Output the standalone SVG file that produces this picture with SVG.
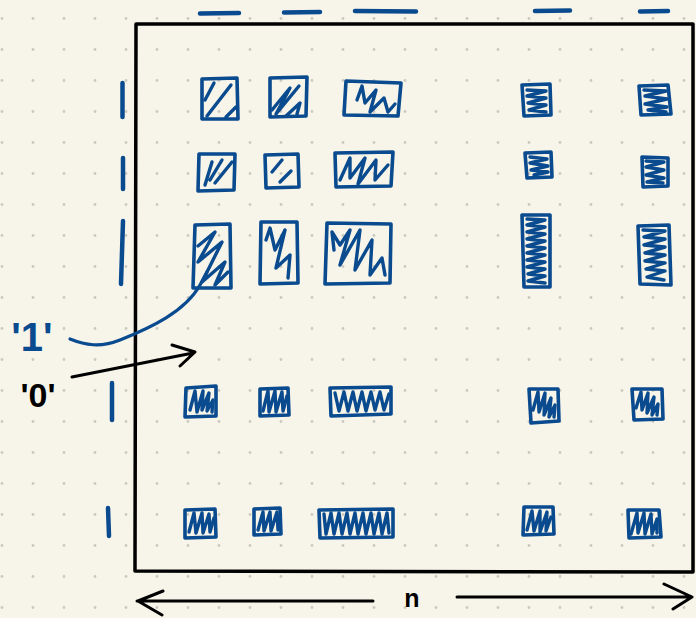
<svg xmlns="http://www.w3.org/2000/svg" width="696" height="618" viewBox="0 0 696 618">
<defs>
<pattern id="dots" x="0" y="0" width="31" height="31" patternUnits="userSpaceOnUse">
<circle cx="2" cy="18.5" r="1.4" fill="#cbc9c0"/>
</pattern>
<style>
.box{fill:none;stroke:#0a4a8e;stroke-width:3.6;stroke-linecap:round;stroke-linejoin:round}
.hat{fill:none;stroke:#0a4a8e;stroke-width:3.4;stroke-linecap:round;stroke-linejoin:round}
.dash{fill:none;stroke:#0a4a8e;stroke-width:4.5;stroke-linecap:round}
.blk{fill:none;stroke:#000;stroke-width:3;stroke-linecap:round;stroke-linejoin:round}
.lbl{font-family:"Liberation Sans",Arial,sans-serif;font-weight:bold}
</style>
</defs>
<rect width="696" height="618" fill="#f7f5ea"/>
<rect width="696" height="618" fill="url(#dots)"/>

<g id="frame">
<path d="M136,24 L693,24 L693,572 L135,571 Z" fill="none" stroke="#000" stroke-width="3.5" stroke-linejoin="round"/>
</g>

<g id="top-dashes">
<path class="dash" d="M200,13.5 L239,13"/>
<path class="dash" d="M284,12.5 L320,12"/>
<path class="dash" d="M355,11 L416,11.5"/>
<path class="dash" d="M535,11 L570,10.5"/>
<path class="dash" d="M640,11.5 L668,11"/>
</g>
<g id="left-dashes">
<path class="dash" d="M122.5,83 L122.5,117"/>
<path class="dash" d="M123,158 L123,189"/>
<path class="dash" d="M123,221 L121,284"/>
<path class="dash" d="M112,383 L112,420"/>
<path class="dash" d="M108,508 L109,536"/>
</g>

<g id="block-a"><path class="box" d="M202,79 L237,78 L238,119 L202,119 Z"/><path class="hat" d="M205,100 L214,83 M207,116 L231,85 M226,117 L236,107"/></g>
<g id="block-b"><path class="box" d="M270,78 L307,77 L306,116 L270,117 Z"/><path class="hat" d="M272,110 L290,88 L276,114 L299,86 M286,116 L300,103 L297,114"/></g>
<g id="block-c"><path class="box" d="M346,81 L401,83 L398,116 L344,115 Z"/><path class="hat" d="M357,100 L362,86 L365,103 L376,90 L370,112 L384,98 L388,112 L395,104"/></g>

<g id="block-d"><path class="box" d="M199,154 L235,154 L234,190 L198,191 Z"/><path class="hat" d="M205,185 L212,162 M210,180 L222,160 M215,183 L232,162"/></g>
<g id="block-e"><path class="box" d="M265,155 L298,154 L299,187 L266,188 Z"/><path class="hat" d="M272,172 L282,160 M280,182 L291,171"/></g>
<g id="block-f"><path class="box" d="M335,153 L393,152 L391,186 L336,187 Z"/><path class="hat" d="M340,180 L350,158 L350,178 L365,158 L358,184 L376,160 L375,180 L388,165"/></g>

<g id="block-g"><path class="box" d="M195,225 L230,224 L231,288 L193,288 Z"/><path class="hat" d="M198,246 L215,232 L198,262 L222,242 L202,282 L225,262 L215,285 L228,272"/></g>
<g id="block-h"><path class="box" d="M261,222 L297,222 L298,283 L260,284 Z"/><path class="hat" d="M266,240 L270,228 L275,250 L285,230 L276,268 L290,255 L288,278"/></g>
<g id="block-i"><path class="box" d="M327,223 L391,224 L390,283 L325,284 Z"/><path class="hat" d="M334,250 L332,232 L340,245 L350,230 L340,265 L360,230 L355,270 L372,240 L370,275 L382,258 L385,275"/></g>

<g id="block-j"><path class="box" d="M522,85 L550,84 L551,115 L524,116 Z"/><path class="hat" d="M527,90 L546,91 L527,96 L546,98 L528,103 L546,105 L529,110 L546,112"/></g>
<g id="block-k"><path class="box" d="M639,86 L668,85 L671,114 L641,115 Z"/><path class="hat" d="M644,90 L666,91 L645,96 L667,99 L645,104 L667,107 L648,110 L666,112"/></g>
<g id="block-l"><path class="box" d="M525,153 L551,152 L552,177 L527,178 Z"/><path class="hat" d="M530,157 L547,159 L530,163 L548,166 L531,170 L548,172 L534,175"/></g>
<g id="block-m"><path class="box" d="M642,157 L668,158 L668,186 L643,187 Z"/><path class="hat" d="M646,161 L664,162 L646,167 L664,170 L646,175 L664,178 L647,182 L663,183"/></g>
<g id="block-n"><path class="box" d="M522,215 L550,215 L550,287 L524,287 Z"/><path class="hat" d="M527,219 L545,220 L527,225 L545,227 L527,232 L545,234 L527,239 L545,241 L527,246 L545,248 L527,253 L545,255 L527,260 L545,262 L527,267 L545,269 L528,274 L545,276 L528,281 L545,283"/></g>
<g id="block-o"><path class="box" d="M638,226 L669,225 L671,285 L640,284 Z"/><path class="hat" d="M643,230 L665,231 L644,237 L665,239 L644,245 L665,247 L645,253 L665,255 L645,261 L665,263 L646,269 L665,271 L647,277 L664,280"/></g>

<g id="block-p"><path class="box" d="M186,388 L216,386 L216,416 L185,417 Z"/><path class="hat" d="M190,410 L195,391 L197,412 L203,391 L202,410 L209,393 L207,411 L213,400 L212,412"/></g>
<g id="block-q"><path class="box" d="M260,389 L288,388 L289,415 L260,416 Z"/><path class="hat" d="M263,411 L268,391 L269,412 L275,391 L276,412 L282,392 L283,411 L287,396"/></g>
<g id="block-r"><path class="box" d="M330,388 L391,387 L391,414 L331,416 Z"/><path class="hat" d="M335,393 L339,411 L344,392 L348,411 L353,392 L357,411 L362,392 L366,411 L371,392 L375,410 L380,392 L384,410 L389,394"/></g>
<g id="block-s"><path class="box" d="M185,510 L215,509 L216,537 L185,538 Z"/><path class="hat" d="M189,532 L194,513 L196,533 L202,513 L203,533 L209,514 L210,532 L214,518"/></g>
<g id="block-t"><path class="box" d="M254,509 L280,508 L281,534 L254,535 Z"/><path class="hat" d="M258,530 L263,512 L264,531 L270,512 L271,531 L277,512 L278,530"/></g>
<g id="block-u"><path class="box" d="M319,510 L393,509 L393,537 L320,538 Z"/><path class="hat" d="M324,514 L326,534 L331,513 L334,534 L339,513 L342,534 L347,513 L350,534 L355,513 L358,534 L363,513 L366,534 L371,513 L374,534 L379,513 L382,534 L387,513 L389,533"/></g>

<g id="block-v"><path class="box" d="M529,389 L558,389 L559,421 L531,423 Z"/><path class="hat" d="M533,410 L538,392 L539,412 L545,393 L544,415 L551,398 L549,417 L555,405 L554,417"/></g>
<g id="block-w"><path class="box" d="M632,389 L662,389 L663,419 L634,420 Z"/><path class="hat" d="M636,408 L641,392 L642,410 L648,393 L647,413 L654,397 L652,415 L658,404 L657,415"/></g>
<g id="block-x"><path class="box" d="M524,507 L553,507 L554,534 L523,535 Z"/><path class="hat" d="M527,530 L532,511 L534,531 L540,511 L540,532 L547,512 L546,531 L551,517"/></g>
<g id="block-y"><path class="box" d="M628,510 L659,510 L661,537 L629,538 Z"/><path class="hat" d="M631,534 L637,513 L638,533 L644,513 L645,534 L651,514 L652,534 L657,519 L657,533"/></g>

<g id="label-one"><text class="lbl" x="32" y="351" font-size="40" text-anchor="middle" fill="#0a4a8e" font-weight="normal">'1'</text></g>
<g id="label-zero"><text class="lbl" x="38" y="407" font-size="34" text-anchor="middle" fill="#000">'0'</text></g>
<g id="label-n"><text class="lbl" x="412" y="607" font-size="25" text-anchor="middle" fill="#000">n</text></g>

<g id="connectors">
<path d="M70,339 C85,345 100,348 120,340 C150,328 185,312 200,285 L207,272" fill="none" stroke="#0a4a8e" stroke-width="3.2" stroke-linecap="round"/>
<path class="blk" d="M72,377 L193,353 M172,345 L195,352 L180,366"/>
<path class="blk" d="M137,601 L373,601 M163,591 L138,601 L162,615"/>
<path class="blk" d="M457,597 L692,597 M664,584 L692,597 L673,609"/>
</g>
</svg>
